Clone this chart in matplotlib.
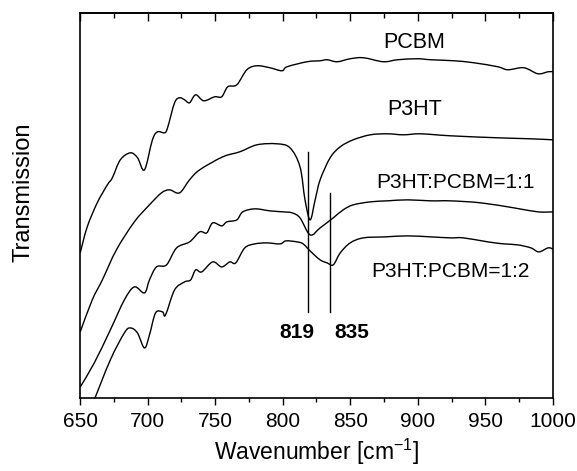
import numpy as np
import matplotlib
matplotlib.use("Agg")
import matplotlib.pyplot as plt
from matplotlib.path import Path
from matplotlib.patches import PathPatch
from matplotlib.ticker import MultipleLocator

plt.rcParams["font.family"] = ["Liberation Sans", "DejaVu Sans"]

# FTIR transmission spectra (arbitrary units, curves offset vertically)
pcbm_w = [650, 655.2, 662.6, 670.1, 673.8, 679.7, 687.2, 692.5, 697.6, 703.5,
          707.3, 712.5, 714.7, 719.9, 723.6, 727.3, 731.0, 735.5, 741.5, 749.6,
          754.8, 759.3, 766.0, 773.4, 780.9, 790.5, 799.4, 803.2, 818.0, 827.7,
          832.9, 840.3, 850.0, 859.7, 874.5, 885.0, 899.8, 909.5, 926.6, 941.5,
          959.3, 966.7, 978.6, 989.0, 996.5, 1000]
pcbm_t = [145, 171, 195, 213, 220, 238, 245, 240, 228, 258,
          266, 265, 270, 295, 300, 298, 295, 303, 297, 301,
          301, 311, 313, 328, 332, 330, 327, 331, 336, 337,
          338, 336, 339, 340, 336, 338, 339, 338, 337, 335,
          331, 328, 330, 324, 326, 326]

p3ht_w = [650, 658.9, 666.4, 676.8, 690.1, 701.3, 710.2, 716.2, 723.6, 731.0,
          738.5, 755.6, 768.2, 780.9, 795.7, 805.4, 812.8, 816.5, 820.3, 824.0,
          827.7, 835.1, 842.6, 852.2, 864.9, 877.5, 889.4, 902.0, 924.3, 959.3,
          983.8, 1000]
p3ht_t = [66, 98, 118, 148, 176, 193, 205, 208, 205, 218,
          228, 241, 246, 253, 254, 250, 231, 198, 178, 198,
          218, 240, 251, 258, 263, 264, 263, 264, 262, 260,
          259, 258]

mix11_w = [650, 660.4, 672.3, 682.7, 690.1, 697.6, 701.3, 706.5, 713.9, 721.4,
           731.0, 738.5, 743.7, 748.1, 754.8, 758.6, 766.0, 770.4, 779.4, 790.5,
           800.2, 806.9, 812.8, 820.3, 827.7, 837.4, 844.8, 852.2, 864.9, 877.5,
           892.4, 909.5, 924.3, 946.7, 971.2, 989.0, 1000]
mix11_t = [11, 35, 68, 98, 111, 105, 118, 131, 133, 150,
           156, 166, 165, 175, 172, 176, 178, 186, 189, 187,
           186, 185, 180, 163, 170, 180, 188, 193, 196, 197,
           198, 197, 197, 195, 190, 186, 186]

mix12_w = [652, 658.9, 672.3, 682.7, 687.2, 692.4, 697.6, 701.3, 705.8, 711.0,
           713.2, 719.9, 727.3, 731.8, 735.5, 740.0, 748.1, 754.8, 760.8, 765.2,
           771.9, 779.4, 788.3, 798.0, 802.4, 810.6, 815.1, 821.0, 827.7, 832.9,
           837.4, 842.6, 850.0, 859.7, 876.0, 892.4, 909.5, 924.3, 933.9, 951.9,
           963.8, 974.2, 983.8, 989.7, 996.5, 1000]
mix12_t = [-30, -7, 38, 65, 70, 65, 50, 63, 85, 86,
           83, 108, 116, 118, 128, 126, 136, 131, 136, 135,
           150, 154, 155, 154, 157, 156, 154, 146, 138, 135,
           133, 145, 155, 160, 161, 162, 161, 160, 160, 156,
           154, 153, 150, 146, 150, 149]

# marked absorption bands
peaks = [819, 835]
peak_labels = ["819", "835"]


def smooth_path(x, y):
    # Catmull-Rom through the read points, drawn as cubic Bezier segments
    p = np.column_stack([x, y]).astype(float)
    ext = np.vstack([p[0], p, p[-1]])
    verts = [p[0]]
    codes = [Path.MOVETO]
    for i in range(1, len(ext) - 2):
        p0, p1, p2, p3 = ext[i - 1], ext[i], ext[i + 1], ext[i + 2]
        verts += [p1 + (p2 - p0) / 6.0, p2 - (p3 - p1) / 6.0, p2]
        codes += [Path.CURVE4] * 3
    return Path(verts, codes)


fig = plt.figure(figsize=(5.77, 4.71), dpi=100)
ax = fig.add_axes([0.139, 0.155, 0.819, 0.818])

for w, t in [(pcbm_w, pcbm_t), (p3ht_w, p3ht_t), (mix11_w, mix11_t), (mix12_w, mix12_t)]:
    ax.add_patch(PathPatch(smooth_path(w, t), facecolor="none",
                           edgecolor="black", lw=1.0))

# vertical markers at the bands
ax.plot([peaks[0], peaks[0]], [86, 246], color="black", lw=1.0)
ax.plot([peaks[1], peaks[1]], [86, 205], color="black", lw=1.0)
ax.text(810.5, 65, peak_labels[0], fontsize=15, fontweight="bold", ha="center", va="center")
ax.text(851.5, 65, peak_labels[1], fontsize=15, fontweight="bold", ha="center", va="center")

# curve names
ax.text(897, 355, "PCBM", fontsize=15.5, ha="center", va="center")
ax.text(898, 288, "P3HT", fontsize=15.5, ha="center", va="center")
ax.text(928, 215, "P3HT:PCBM=1:1", fontsize=15, ha="center", va="center")
ax.text(924, 126, "P3HT:PCBM=1:2", fontsize=15, ha="center", va="center")

ax.set_xlim(650, 1000)
ax.set_ylim(0, 385)
ax.xaxis.set_major_locator(MultipleLocator(50))
ax.xaxis.set_minor_locator(MultipleLocator(25))
ax.tick_params(axis="x", which="both", bottom=True, top=False, direction="out",
               labelsize=15, pad=5)
ax.tick_params(axis="x", which="major", length=5, width=1.0)
ax.tick_params(axis="x", which="minor", length=3, width=1.0)
ax.set_yticks([])

# top axis: ticks pointing inward, no labels
top = ax.secondary_xaxis("top")
top.xaxis.set_major_locator(MultipleLocator(50))
top.xaxis.set_minor_locator(MultipleLocator(25))
top.tick_params(which="both", direction="in", labeltop=False, width=1.0)
top.tick_params(which="major", length=6)
top.tick_params(which="minor", length=3.5)
top.spines["top"].set_linewidth(1.2)

for s in ax.spines.values():
    s.set_linewidth(1.2)

ax.set_xlabel("Wavenumber [cm$^{\\mathregular{-1}}$]", fontsize=16.5, labelpad=4)
ax.set_ylabel("Transmission", fontsize=17)
ax.yaxis.set_label_coords(-0.097, 0.535)

fig.savefig("out.png", dpi=100)
